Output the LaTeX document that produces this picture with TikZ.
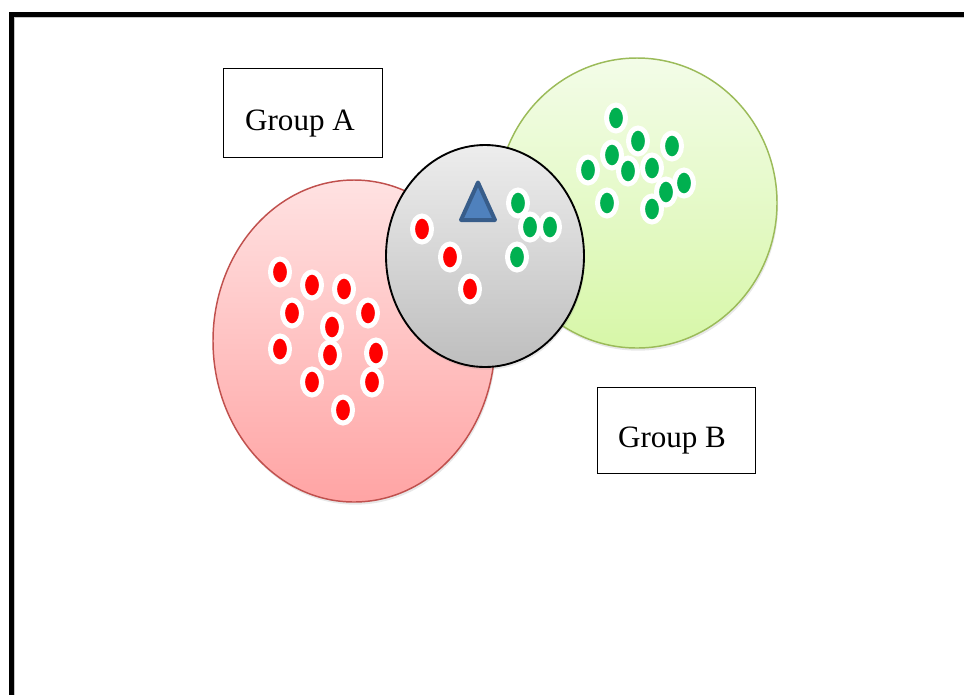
\documentclass[tikz,border=0pt]{standalone}
\usepackage{fontspec}
\setmainfont{Liberation Serif}
\usetikzlibrary{shapes.geometric,shadows}

\definecolor{redtop}{RGB}{255,226,226}
\definecolor{redbottom}{RGB}{255,164,164}
\definecolor{redline}{RGB}{192,80,77}
\definecolor{greentop}{RGB}{243,252,232}
\definecolor{greenbottom}{RGB}{215,247,168}
\definecolor{greenline}{RGB}{155,187,89}
\definecolor{greytop}{RGB}{237,237,237}
\definecolor{greybottom}{RGB}{190,190,190}
\definecolor{dotred}{RGB}{255,0,0}
\definecolor{dotgreen}{RGB}{0,176,80}
\definecolor{trifill}{RGB}{79,129,189}
\definecolor{triline}{RGB}{56,93,138}

\tikzset{
    blob/.style={ellipse, inner sep=0pt, line width=1.1pt,
        drop shadow={opacity=0.18, shadow xshift=0.8pt, shadow yshift=-2pt}},
    dotshape/.style={ellipse, draw=white, line width=3.75pt, inner sep=0pt,
        minimum width=14.25pt, minimum height=19.5pt},
    reddot/.style={dotshape, fill=dotred},
    greendot/.style={dotshape, fill=dotgreen},
    groupbox/.style={draw, line width=0.7pt, inner sep=0pt},
    grouplabel/.style={font=\fontsize{23.3}{28}\selectfont, inner sep=0pt, anchor=base}
}

\begin{document}
\begin{tikzpicture}[x=0.75pt,y=-0.75pt]
    \useasboundingbox (0,0) rectangle (964,694);

    \draw[line width=3.75pt] (11.5,720) -- (11.5,14.5) -- (990,14.5);
    \draw[gray!45, line width=0.9pt] (14.8,720) -- (14.8,17.8) -- (990,17.8);

    \node[blob, draw=redline, top color=redtop, bottom color=redbottom,
          minimum width=211.5pt, minimum height=241.5pt] (groupa) at (354,341) {};
    \node[blob, draw=greenline, top color=greentop, bottom color=greenbottom,
          minimum width=210pt, minimum height=217.5pt] (groupb) at (637,203) {};
    \node[blob, draw=black, line width=1.4pt, top color=greytop, bottom color=greybottom,
          minimum width=148.5pt, minimum height=166.5pt] (query) at (485,256) {};

    \foreach \x/\y [count=\i] in {280/272, 312/285, 344/289, 292/313, 332/327, 368/313,
                                  280/349, 330/355, 376/353, 312/382, 372/382, 343/410,
                                  422/229, 450/257, 470/289}
        \node[reddot] (red\i) at (\x,\y) {};

    \foreach \x/\y [count=\i] in {616/118, 638/141, 672/146, 612/155, 588/170, 628/171,
                                  652/168, 684/183, 666/192, 607/203, 652/209,
                                  518/203, 530/227, 550/227, 517/257}
        \node[greendot] (green\i) at (\x,\y) {};

    \draw[fill=trifill, draw=triline, line width=3pt, line join=round]
        (478,182.5) -- (461,220) -- (495,220) -- cycle;

    \node[groupbox, minimum width=119.25pt, minimum height=66.75pt] (boxa) at (302.5,112.5) {};
    \node[grouplabel] (labela) at (300,130) {Group A};

    \node[groupbox, minimum width=118.5pt, minimum height=64.5pt] (boxb) at (676,430) {};
    \node[grouplabel] (labelb) at (672,447) {Group B};
\end{tikzpicture}
\end{document}
